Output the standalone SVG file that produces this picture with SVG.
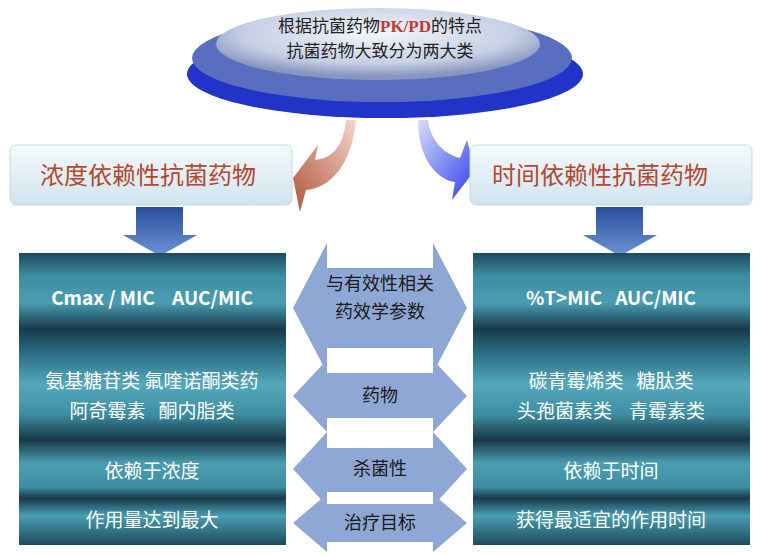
<svg xmlns="http://www.w3.org/2000/svg" width="768" height="555" viewBox="0 0 768 555">
<defs>
<linearGradient id="panel" x1="0" y1="0" x2="0" y2="1">
<stop offset="0" stop-color="#1e4a5c"/><stop offset="0.08" stop-color="#3e8ea3"/><stop offset="0.17" stop-color="#4a9db2"/><stop offset="0.26" stop-color="#173a4a"/><stop offset="0.34" stop-color="#2a6b80"/><stop offset="0.45" stop-color="#54a8bc"/><stop offset="0.55" stop-color="#3f8fa4"/><stop offset="0.64" stop-color="#163846"/><stop offset="0.72" stop-color="#4a9db2"/><stop offset="0.8" stop-color="#3e8ea3"/><stop offset="0.84" stop-color="#173a4a"/><stop offset="0.9" stop-color="#4a9db2"/><stop offset="1" stop-color="#1e4a5c"/>
</linearGradient>
<linearGradient id="lbl" x1="0" y1="0" x2="0" y2="1"><stop offset="0" stop-color="#f4fafc"/><stop offset="1" stop-color="#cfe4ee"/></linearGradient>
<linearGradient id="dn" x1="0" y1="0" x2="0" y2="1"><stop offset="0" stop-color="#2b4f9a"/><stop offset="1" stop-color="#6d93d6"/></linearGradient>
<linearGradient id="brn" x1="1" y1="0" x2="0" y2="1"><stop offset="0" stop-color="#f3d6cc"/><stop offset="1" stop-color="#b0563a"/></linearGradient>
<linearGradient id="blu" x1="0" y1="0" x2="1" y2="1"><stop offset="0" stop-color="#d8dcfb"/><stop offset="1" stop-color="#2c3ee8"/></linearGradient>
<radialGradient id="top" cx="0.5" cy="0.35" r="0.6"><stop offset="0" stop-color="#f4f6fb"/><stop offset="0.7" stop-color="#c6cfe4"/><stop offset="1" stop-color="#8795bf"/></radialGradient>
<style>
.t{font-family:"Noto Sans CJK SC","Liberation Sans",sans-serif;}
.w{fill:#fff;font-size:19px;text-anchor:middle;white-space:pre;}
.m{fill:#1a1a1a;font-size:18px;text-anchor:middle;}
.dbl{fill:#8fa7d4;}
</style>
</defs>
<g id="top-ellipse">
<ellipse cx="385" cy="74" rx="198" ry="44" fill="#2233c8"/>
<ellipse cx="382" cy="58" rx="190" ry="44" fill="#5a6ec0"/>
<ellipse cx="378" cy="44" rx="162" ry="36" fill="url(#top)"/>
<text class="t" x="380" y="32" font-size="17" text-anchor="middle" fill="#222">根据抗菌药物<tspan fill="#c0392b" font-family="Liberation Serif,serif" font-weight="bold">PK/PD</tspan>的特点</text>
<text class="t" x="380" y="57" font-size="17" text-anchor="middle" fill="#222">抗菌药物大致分为两大类</text>
</g>
<g id="connectors">
<path d="M346,120 C343,150 330,158 315,160 L318,145 L293,178 L300,212 L306,190 C330,188 352,165 356,120 Z" fill="url(#brn)"/>
<path d="M418,120 C418,160 438,180 455,182 L452,200 L475,170 L467,140 L460,158 C445,155 430,140 428,120 Z" fill="url(#blu)"/>
<path d="M136,207 H183 V235 H197 L160,256 L123,235 H136 Z" fill="url(#dn)"/>
<path d="M596,207 H643 V235 H657 L620,256 L583,235 H596 Z" fill="url(#dn)"/>
</g>
<g id="label-left">
<rect x="10" y="145" width="282" height="60" rx="6" fill="url(#lbl)" stroke="#c5dbe6"/>
<text class="t" x="148" y="184" font-size="24" text-anchor="middle" fill="#b5472f">浓度依赖性抗菌药物</text>
</g>
<g id="label-right">
<rect x="470" y="145" width="282" height="60" rx="6" fill="url(#lbl)" stroke="#c5dbe6"/>
<text class="t" x="600" y="184" font-size="24" text-anchor="middle" fill="#b5472f">时间依赖性抗菌药物</text>
</g>
<g id="panel-left">
<rect x="19" y="253" width="267" height="292" fill="url(#panel)"/>
<text class="t w" x="152" y="305" font-family="Liberation Sans,sans-serif" font-weight="bold" xml:space="preserve">Cmax / MIC    AUC/MIC</text>
<text class="t w" x="152" y="388">氨基糖苷类 氟喹诺酮类药</text>
<text class="t w" x="152" y="418" xml:space="preserve">阿奇霉素   酮内脂类</text>
<text class="t w" x="152" y="478">依赖于浓度</text>
<text class="t w" x="152" y="527">作用量达到最大</text>
</g>
<g id="panel-right">
<rect x="473" y="253" width="277" height="292" fill="url(#panel)"/>
<text class="t w" x="611" y="305" font-family="Liberation Sans,sans-serif" font-weight="bold" xml:space="preserve">%T&gt;MIC   AUC/MIC</text>
<text class="t w" x="611" y="388" xml:space="preserve">碳青霉烯类   糖肽类</text>
<text class="t w" x="611" y="418" xml:space="preserve">头孢菌素类    青霉素类</text>
<text class="t w" x="611" y="478">依赖于时间</text>
<text class="t w" x="611" y="527">获得最适宜的作用时间</text>
</g>
<g id="mid-1">
<path class="dbl" d="M293,308 L327,243 V268 H433 V243 L467,308 L433,373 V348 H327 V373 Z"/>
<text class="t m" x="380" y="290">与有效性相关</text>
<text class="t m" x="380" y="318">药效学参数</text>
</g>
<g id="mid-2">
<path class="dbl" d="M293,396 L327,360 V373 H433 V360 L467,396 L433,432 V418 H327 V432 Z"/>
<text class="t m" x="380" y="402">药物</text>
</g>
<g id="mid-3">
<path class="dbl" d="M293,469 L327,432 V448 H433 V432 L467,469 L433,506 V492 H327 V506 Z"/>
<text class="t m" x="380" y="475">杀菌性</text>
</g>
<g id="mid-4">
<path class="dbl" d="M293,523 L327,494 V504 H433 V494 L467,523 L433,552 V542 H327 V552 Z"/>
<text class="t m" x="380" y="529">治疗目标</text>
</g>
</svg>
